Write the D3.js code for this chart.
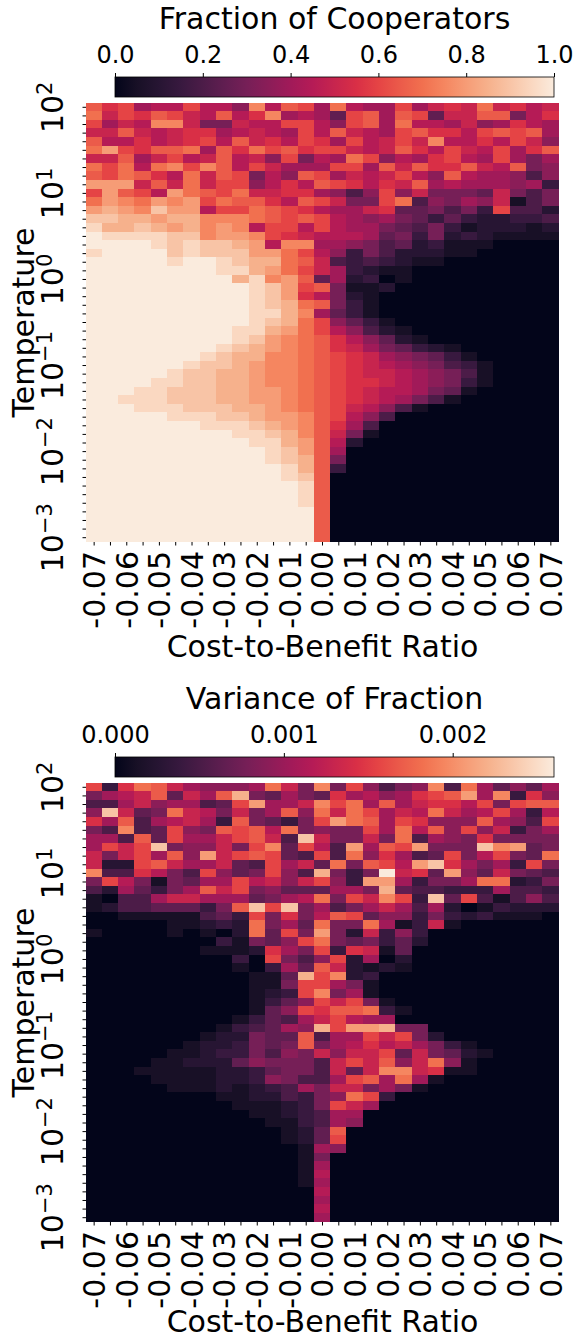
<!DOCTYPE html>
<html>
<head>
<meta charset="utf-8">
<script src="https://cdn.jsdelivr.net/npm/d3@7"></script>
<style>
  body { margin: 0; background: #fff; }
  svg { display: block; font-family: 'DejaVu Sans', sans-serif; }
</style>
</head>
<body>
<svg id="chart" width="577" height="1340"></svg>
<script>
// Columns: cost-to-benefit ratio
const costRatios = [-0.07, -0.065, -0.06, -0.055, -0.05, -0.045, -0.04, -0.035, -0.03, -0.025,
  -0.02, -0.015, -0.01, -0.005, 0.0, 0.005, 0.01, 0.015, 0.02, 0.025,
  0.03, 0.035, 0.04, 0.045, 0.05, 0.055, 0.06, 0.065, 0.07];
const costTickLabels = ['-0.07', '-0.06', '-0.05', '-0.04', '-0.03', '-0.02', '-0.01', '0.00',
  '0.01', '0.02', '0.03', '0.04', '0.05', '0.06', '0.07'];

// Rows: log10(temperature), top to bottom
const tempExponents = [2.0, 1.9, 1.8, 1.7, 1.6, 1.5, 1.4, 1.3, 1.2, 1.1,
  1.0, 0.9, 0.8, 0.7, 0.6, 0.5, 0.4, 0.3, 0.2, 0.1,
  0.0, -0.1, -0.2, -0.3, -0.4, -0.5, -0.6, -0.7, -0.8, -0.9,
  -1.0, -1.1, -1.2, -1.3, -1.4, -1.5, -1.6, -1.7, -1.8, -1.9,
  -2.0, -2.1, -2.2, -2.3, -2.4, -2.5, -2.6, -2.7, -2.8, -2.9, -3.0];
const tempTickExps = [2, 1, 0, -1, -2, -3];

const coopTicks = [0, 0.2, 0.4, 0.6, 0.8, 1.0];
const varTicks = [0, 0.001, 0.002];
const coopMax = 1.0;
const varMax = 0.0026;

// one char per cell, '0'..'k' = 0..20 twentieths of the colour range
const LEVELS = '0123456789abcdefghijk';

const coopRows = [
  'dbc899c997f9dc8e988c8abaeab9a',
  'eacbdca9d9bf8985cd8dc5aadd69b',
  'c8a9ffa66a99cc97cd8e998a78b98',
  'aada9abb89a98c9da98cdbb9cdcd8',
  'd99b9abc9dab9cb8c9acaf99b9ca7',
  'egcbdde8dbecdbcca9adb9ca9c8bd',
  'aad8ac9ad9a7c698ec798bc98c868',
  'ece9efcfd9ca888cc8dadbbda9d67',
  'dcedb9eadc697dc8a9ac97d988747',
  'gggadaeacc79b9dcb9bad89888783',
  'cgdc9gedceaabb8747c7a6665a646',
  'egfegfgceddb9dca66ce47687a146',
  'ghgfigg9ccedcb988ab556463c442',
  'iihhghhfffedcdc98786535322334',
  'jhhihghfgf9cc9c98865463122212',
  'kjjjjiifggfcba999856362321111',
  'kkkkjijiihg9ff887645231110000',
  'jkkkkijiiiggec973642221100000',
  'kkkkkjkkjihheda43432110000000',
  'kkkkkkkkjjhgeca83211000000000',
  'kkkkkkkkkhjfgd582301000000000',
  'kkkkkkkkkkjigcd61120000000000',
  'kkkkkkkkkkjigb962100000000000',
  'kkkkkkkkkkjihed63100000000000',
  'kkkkkkkkkkjjhf853100000000000',
  'kkkkkkkkkkjihec75310000000000',
  'kkkkkkkkkjjhgec97421000000000',
  'kkkkkkkkkjigfedb9752100000000',
  'kkkkkkkkjihgfedba865321000000',
  'kkkkkkkjihhffedcba87653100000',
  'kkkkkkjiihgffedcba98764310000',
  'kkkkkjiihhgffedcbaa9876410000',
  'kkkkjjiihhgffedcbba9876310000',
  'kkkjjiiihhggfedcba99865100000',
  'kkjjjiiihhggfedcba98641000000',
  'kkkjjjiiihhgfedca974100000000',
  'kkkkkjjjiihggfdc9740000000000',
  'kkkkkkkjjjihgfdb8400000000000',
  'kkkkkkkkkjjihfda6100000000000',
  'kkkkkkkkkkjjhgd92000000000000',
  'kkkkkkkkkkkjigd80000000000000',
  'kkkkkkkkkkkjihd60000000000000',
  'kkkkkkkkkkkkjhd30000000000000',
  'kkkkkkkkkkkkjid00000000000000',
  'kkkkkkkkkkkkkjd00000000000000',
  'kkkkkkkkkkkkkjd00000000000000',
  'kkkkkkkkkkkkkjd00000000000000',
  'kkkkkkkkkkkkkkd00000000000000',
  'kkkkkkkkkkkkkkd00000000000000',
  'kkkkkkkkkkkkkkd00000000000000',
  'kkkkkkkkkkkkkkd00000000000000'
];

const varRows = [
  'c3beda87778ea6f6c7467f4e85758',
  '689ad5a8dh65865b8978bcdg8f3b7',
  '448a78845cg88afce8d8abb9c6cdd',
  '7ia56ea96a68d7eaec8a9ea89c839',
  'b8d489a83d6536cged8cb777d874c',
  '64f45c76dcd9e6766c8e9d7c7a368',
  '884d5c88acda4ia66a6e4876b6666',
  '8caci677a6cf5c94g8dcg666ifg56',
  'a6ac8d7gacdc54c4e7b845c69c65e',
  'a22cda88a54c8a5e6dc9gib8683c6',
  'f44b964c756c74h636kab5g75a654',
  '6c9616588c9a7ac73gg83668ee236',
  '4285368dac67555886h5443338443',
  '10448aa8885689e6cafc3i5c41474',
  '124455536dici68468a8482013222',
  '0011111453c6b69dc577363231110',
  '0000011232e685e66e813a1000000',
  '1000010102e5c6g62a37300000000',
  '0000000031657ce65635200000000',
  '00000001112b86c3ba15000000000',
  '00000000030c647c2802000000000',
  '00000000010385da2121000000000',
  '0000000000115hcf2300000000000',
  '0000000000116cc86100000000000',
  '0000000000123cf68100000000000',
  '00000000001357cac610000000000',
  '0000000000157cbdde31000000000',
  '00000000013548ac9880000000000',
  '00000000134587hcggh6600000000',
  '0000000122655d488cac620000000',
  '0000001223656d689b9a863100000',
  '00000112336476a7aac5a65210000',
  '000011222576664acad7ae7100000',
  '000111112235664a5affab1100000',
  '0000111122376448cd8e810000000',
  '000001112123486aa686100000000',
  '0000000011224367ec30000000000',
  '000000000111236ca800000000000',
  '00000000001123488000000000000',
  '00000000000113487000000000000',
  '000000000000125d0000000000000',
  '000000000000125c0000000000000',
  '00000000000001870000000000000',
  '00000000000001600000000000000',
  '00000000000001800000000000000',
  '00000000000001900000000000000',
  '00000000000001800000000000000',
  '00000000000000900000000000000',
  '00000000000000800000000000000',
  '00000000000000900000000000000',
  '00000000000000800000000000000'
];

// seaborn "rocket" sampled at i/7
const rocket = d3.piecewise(d3.interpolateLab,
  ['#03051a', '#35193e', '#701f57', '#ad1759', '#e13342', '#f37651', '#f6b48f', '#faebdd']);

const svg = d3.select('#chart');
const FONT = 30;       // titles, axis labels, axis tick labels
const CBAR_FONT = 24;  // colorbar tick labels

function decode(rows, vmax) {
  const cells = [];
  rows.forEach((row, i) => {
    for (let j = 0; j < costRatios.length; j++) {
      const lvl = Math.max(0, LEVELS.indexOf(row[j] || '0'));
      cells.push({ t: tempExponents[i], c: costRatios[j], v: lvl / 20 * vmax });
    }
  });
  return cells;
}

function drawPanel(opts) {
  const g = svg.append('g').attr('transform', `translate(0,${opts.dy})`);
  const heat = { left: 86, right: 559, top: 103, bottom: 542 };
  const cbar = { left: 115, right: 554, top: 77, bottom: 97 };

  const x = d3.scaleBand().domain(costRatios).range([heat.left, heat.right]);
  const y = d3.scaleBand().domain(tempExponents).range([heat.top, heat.bottom]);
  const color = d3.scaleSequential([0, opts.vmax], rocket);

  // heatmap cells (snapped to whole pixels so no seams show)
  g.append('g').attr('shape-rendering', 'crispEdges')
    .selectAll('rect')
    .data(decode(opts.rows, opts.vmax))
    .join('rect')
    .attr('x', d => Math.floor(x(d.c)))
    .attr('y', d => Math.floor(y(d.t)))
    .attr('width', d => Math.ceil(x(d.c) + x.bandwidth()) - Math.floor(x(d.c)))
    .attr('height', d => Math.ceil(y(d.t) + y.bandwidth()) - Math.floor(y(d.t)))
    .attr('fill', d => color(d.v));

  // x axis
  const xAxis = g.append('g')
    .attr('transform', `translate(0,${heat.bottom})`)
    .call(d3.axisBottom(x).tickSize(3.5).tickPadding(5)
      .tickFormat((d, i) => i % 2 ? '' : costTickLabels[i / 2]));
  xAxis.select('.domain').remove();
  xAxis.selectAll('line').attr('stroke', '#000').attr('stroke-width', 1);
  xAxis.selectAll('text')
    .attr('font-size', FONT).attr('font-family', 'DejaVu Sans').attr('fill', '#000')
    .attr('text-anchor', 'end')
    .attr('transform', 'rotate(-90)')
    .attr('x', -9).attr('y', 0).attr('dy', '0.36em');

  // y axis
  const yAxis = g.append('g')
    .attr('transform', `translate(${heat.left},0)`)
    .call(d3.axisLeft(y).tickSize(3.5).tickFormat(''));
  yAxis.select('.domain').remove();
  yAxis.selectAll('line').attr('stroke', '#000').attr('stroke-width', 1);

  tempTickExps.forEach(e => {
    const cy = y(e) + y.bandwidth() / 2;
    const t = g.append('text')
      .attr('transform', `translate(${heat.left - 23},${cy}) rotate(-90)`)
      .attr('text-anchor', 'middle')
      .attr('font-size', FONT);
    t.append('tspan').text('10');
    t.append('tspan').attr('font-size', 21).attr('dy', -11)
      .text(e < 0 ? '\u2212' + Math.abs(e) : String(e));
  });

  // axis titles
  g.append('text')
    .attr('transform', `translate(34,${(heat.top + heat.bottom) / 2}) rotate(-90)`)
    .attr('text-anchor', 'middle').attr('font-size', FONT)
    .text('Temperature');
  g.append('text')
    .attr('x', (heat.left + heat.right) / 2).attr('y', opts.xLabelY)
    .attr('text-anchor', 'middle').attr('font-size', FONT)
    .text('Cost-to-Benefit Ratio');

  // colorbar
  const cx = d3.scaleLinear().domain([0, opts.vmax]).range([cbar.left, cbar.right]);
  const gradId = 'grad' + opts.dy;
  const grad = svg.append('defs').append('linearGradient').attr('id', gradId);
  d3.range(0, 1.0001, 0.05).forEach(p => {
    grad.append('stop').attr('offset', p).attr('stop-color', rocket(p));
  });
  g.append('rect')
    .attr('x', cbar.left).attr('y', cbar.top)
    .attr('width', cbar.right - cbar.left).attr('height', cbar.bottom - cbar.top)
    .attr('fill', `url(#${gradId})`)
    .attr('stroke', '#000').attr('stroke-width', 0.8);

  const cAxis = g.append('g')
    .attr('transform', `translate(0,${cbar.top})`)
    .call(d3.axisTop(cx).tickValues(opts.ticks).tickSize(4).tickPadding(10)
      .tickFormat(opts.format));
  cAxis.select('.domain').remove();
  cAxis.selectAll('line').attr('stroke', '#000').attr('stroke-width', 1);
  cAxis.selectAll('text')
    .attr('font-size', CBAR_FONT).attr('font-family', 'DejaVu Sans').attr('fill', '#000');

  g.append('text')
    .attr('x', (cbar.left + cbar.right) / 2).attr('y', 29)
    .attr('text-anchor', 'middle').attr('font-size', FONT)
    .text(opts.title);
}

drawPanel({ dy: 0, rows: coopRows, vmax: coopMax, ticks: coopTicks, xLabelY: 657,
  format: d3.format('.1f'), title: 'Fraction of Cooperators' });
drawPanel({ dy: 680, rows: varRows, vmax: varMax, ticks: varTicks, xLabelY: 652,
  format: d3.format('.3f'), title: 'Variance of Fraction' });
</script>
</body>
</html>
